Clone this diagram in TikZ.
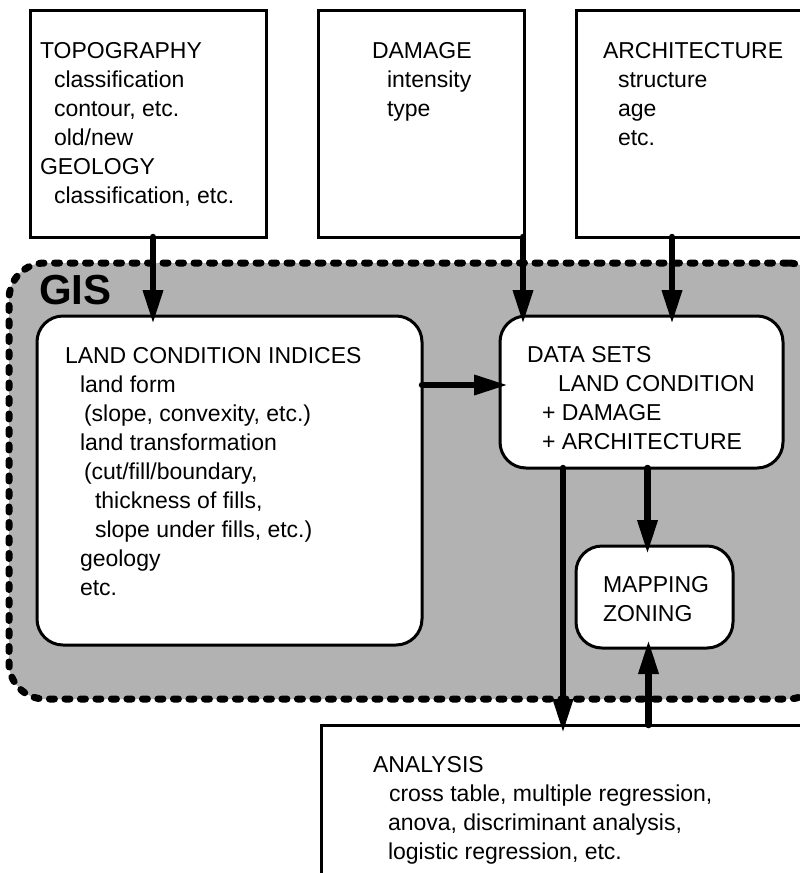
\documentclass[tikz,border=0pt]{standalone}
\usepackage{fontspec}
\setmainfont{Liberation Sans}
\usetikzlibrary{arrows.meta}
\begin{document}
\begin{tikzpicture}[x=1pt,y=-1pt,
  every node/.style={inner sep=0pt, outer sep=0pt},
  % multi-line texts are placed by the baseline of their last line
  txt/.style={anchor=base west, align=left, font=\fontsize{23}{29}\selectfont},
  srcbox/.style={draw, line width=3pt, fill=white, anchor=north west},
  rbox/.style={draw, line width=3pt, fill=white, rounded corners=26pt, anchor=north west},
  gisarea/.style={draw, line width=7pt, dash pattern=on 5pt off 10.5pt, line cap=round,
    fill=black!30, rounded corners=36pt, anchor=north west},
  flow/.style={line width=6.5pt, line cap=round, -{Triangle[length=34pt,width=19pt]},
    shorten >=-8pt}]
\useasboundingbox (0,0) rectangle (800,873);
\clip (0,0) rectangle (800,873);

% GIS region (runs past the right edge)
\node[gisarea, minimum width=815pt, minimum height=436pt] (gis) at (9,263) {};
\node[anchor=base west, font=\fontsize{42}{42}\selectfont\bfseries] (gislabel) at (39,304) {GIS};

% input data boxes
\node[srcbox, minimum width=236pt, minimum height=227pt] (topo) at (30,10) {};
\node[srcbox, minimum width=206pt, minimum height=227pt] (dmg)  at (318,10) {};
\node[srcbox, minimum width=300pt, minimum height=227pt] (arch) at (576,10) {};

% processing boxes inside the GIS
\node[rbox, minimum width=385pt, minimum height=329pt] (land) at (37,316) {};
\node[rbox, minimum width=283pt, minimum height=152pt] (data) at (500,316) {};
\node[rbox, minimum width=157pt, minimum height=102pt] (map)  at (576,546) {};

% analysis box (runs past the right and bottom edges)
\node[srcbox, minimum width=600pt, minimum height=300pt] (ana) at (321,725) {};

% texts
\node[txt] (topotxt) at (40,203) {TOPOGRAPHY\\
  \hspace*{14pt}classification\\
  \hspace*{14pt}contour, etc.\\
  \hspace*{14pt}old/new\\
  GEOLOGY\\
  \hspace*{14pt}classification, etc.};
\node[txt] (dmgtxt) at (372,116) {DAMAGE\\
  \hspace*{15pt}intensity\\
  \hspace*{15pt}type};
\node[txt] (archtxt) at (603,145) {ARCHITECTURE\\
  \hspace*{15pt}structure\\
  \hspace*{15pt}age\\
  \hspace*{15pt}etc.};
\node[txt] (landtxt) at (65,595) {LAND CONDITION INDICES\\
  \hspace*{15pt}land form\\
  \hspace*{19pt}(slope, convexity, etc.)\\
  \hspace*{15pt}land transformation\\
  \hspace*{19pt}(cut/fill/boundary,\\
  \hspace*{30pt}thickness of fills,\\
  \hspace*{30pt}slope under fills, etc.)\\
  \hspace*{15pt}geology\\
  \hspace*{15pt}etc.};
\node[txt] (datatxt) at (527,449) {DATA SETS\\
  \hspace*{31pt}LAND CONDITION\\
  \hspace*{15pt}+ DAMAGE\\
  \hspace*{15pt}+ ARCHITECTURE};
\node[txt] (maptxt) at (603,621) {MAPPING\\ZONING};
\node[txt] (anatxt) at (373,859) {ANALYSIS\\
  \hspace*{16pt}cross table, multiple regression,\\
  \hspace*{15pt}anova, discriminant analysis,\\
  \hspace*{15pt}logistic regression, etc.};

% flows
\draw[flow] ([xshift=5pt]topo.south) -- ([xshift=5pt]topo.south |- land.north);
\draw[flow] ([xshift=23pt]data.north west |- dmg.south) -- ([xshift=23pt]data.north west);
\draw[flow] ([xshift=96pt]arch.south west) -- ([xshift=96pt]arch.south west |- data.north);
\draw[flow] ([yshift=7pt]data.west -| land.east) -- ([yshift=7pt]data.west);
\draw[flow] ([xshift=63pt]data.south west) -- ([xshift=63pt]data.south west |- ana.north);
\draw[flow] ([xshift=-7pt]map.north |- data.south) -- ([xshift=-7pt]map.north);
\draw[flow] ([xshift=-6pt]map.south |- ana.north) -- ([xshift=-6pt]map.south);
\end{tikzpicture}
\end{document}
